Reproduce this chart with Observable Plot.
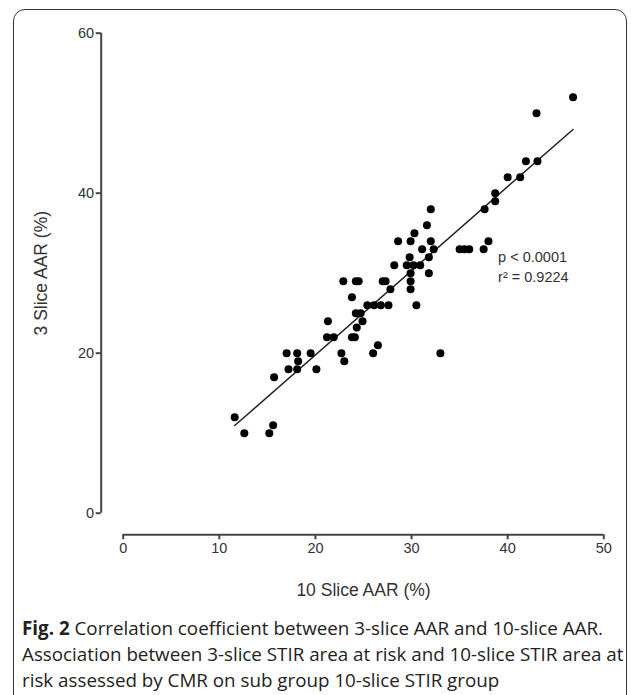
<!DOCTYPE html>
<html>
<head>
<meta charset="utf-8">
<script src="https://cdn.jsdelivr.net/npm/d3@7"></script>
<script src="https://cdn.jsdelivr.net/npm/@observablehq/plot@0.6"></script>
<style>
  html, body { margin: 0; padding: 0; background: #fff; }
  body { width: 633px; height: 695px; position: relative; overflow: hidden; }
  #frame { position: absolute; left: 13px; top: 9px; width: 614px; height: 760px;
           border: 1.5px solid #333; border-radius: 12px; box-sizing: border-box; }
  #chart { position: absolute; left: 0; top: 0; }
  #caption { position: absolute; left: 22px; top: 615px; white-space: nowrap;
             font-family: "Open Sans", sans-serif; font-size: 18.8px; line-height: 26px; color: #222; }
  #caption b { font-weight: 700; }
</style>
</head>
<body>
<div id="frame"></div>
<div id="chart"></div>
<div id="caption"><b>Fig. 2</b> Correlation coefficient between 3-slice AAR and 10-slice AAR.<br>Association between 3-slice STIR area at risk and 10-slice STIR area at<br>risk assessed by CMR on sub group 10-slice STIR group</div>
<script>
// 10 Slice AAR (%)
const tenSlice = [
  11.6, 12.6, 15.2, 15.6, 15.7,
  17.0, 18.1, 19.5, 18.2, 17.2, 18.1, 20.1, 22.7, 23.0,
  21.2, 21.9, 23.8, 24.1, 21.3, 24.3, 24.9,
  24.2, 24.7, 22.9, 24.2, 24.5, 23.8, 27.0, 27.3,
  27.8, 25.4, 26.1, 26.8, 27.6, 30.5,
  26.0, 26.5, 33.0,
  28.2, 29.5, 30.2, 30.9, 29.9, 31.8, 29.9, 29.9,
  29.8, 31.8, 31.1, 32.3, 28.6, 29.9, 32.0, 30.3, 31.6, 32.0,
  35.0, 35.5, 36.0, 37.5, 38.0, 37.6, 38.7, 38.7, 40.0, 41.3, 41.9, 43.1, 43.0, 46.8
];
// 3 Slice AAR (%)
const threeSlice = [
  12, 10, 10, 11, 17,
  20, 20, 20, 19, 18, 18, 18, 20, 19,
  22, 22, 22, 22, 24, 23.2, 24,
  25, 25, 29, 29, 29, 27, 29, 29,
  28, 26, 26, 26, 26, 26,
  20, 21, 20,
  31, 31, 31, 31, 30, 30, 29, 28,
  32, 32, 33, 33, 34, 34, 34, 35, 36, 38,
  33, 33, 33, 33, 34, 38, 39, 40, 42, 42, 44, 44, 50, 52
];
const xTicks = [0, 10, 20, 30, 40, 50];
const yTicks = [0, 20, 40, 60];
const statLabel = ["p < 0.0001", "r\u00b2 = 0.9224"];

const data = tenSlice.map((x, i) => ({x, y: threeSlice[i]}));
const font = "'Liberation Sans', Arial, sans-serif";

const chart = Plot.plot({
  width: 633,
  height: 610,
  marginLeft: 122.7,
  marginRight: 29.7,
  marginTop: 32.7,
  marginBottom: 97.3,
  style: {fontFamily: font, fontSize: "14.5px", color: "#333", background: "transparent", overflow: "visible"},
  x: {domain: [0, 50]},
  y: {domain: [0, 60]},
  marks: [
    Plot.ruleX([0], {dx: -22, stroke: "#444", strokeWidth: 2}),
    Plot.ruleY([0], {dy: 21.6, stroke: "#444", strokeWidth: 2}),
    Plot.axisY({ticks: yTicks, tickSize: 5, tickPadding: 2, dx: -22, stroke: "#444", strokeWidth: 2, label: null, fontSize: 14.5}),
    Plot.axisX({ticks: xTicks, tickSize: 5, tickPadding: 3, dy: 21.6, stroke: "#444", strokeWidth: 2, label: null, fontSize: 14.5}),
    Plot.text(["3 Slice AAR (%)"], {frameAnchor: "left", textAnchor: "middle", lineAnchor: "middle", rotate: -90, dx: -82, fontSize: 17.5, fill: "#333"}),
    Plot.text(["10 Slice AAR (%)"], {frameAnchor: "bottom", textAnchor: "middle", lineAnchor: "middle", dy: 77, fontSize: 17.5, fill: "#333"}),
    Plot.linearRegressionY(data, {x: "x", y: "y", ci: 0, stroke: "#222", strokeWidth: 1.5}),
    Plot.dot(data, {x: "x", y: "y", r: 4, fill: "#000", stroke: null}),
    Plot.text([statLabel.join("\n")], {x: 39, y: 31, textAnchor: "start", lineAnchor: "middle", lineHeight: 1.4, fontSize: 14.5, fill: "#333"})
  ]
});
document.getElementById("chart").appendChild(chart);
</script>
</body>
</html>
